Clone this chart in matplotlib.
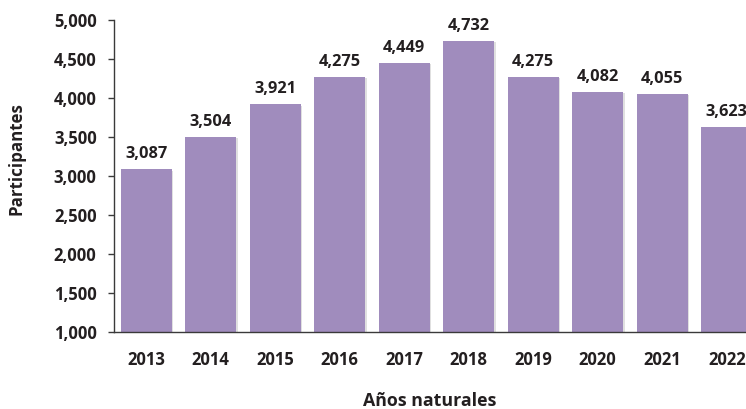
import matplotlib
matplotlib.use("Agg")
import matplotlib.pyplot as plt
from matplotlib import patheffects as pe
from matplotlib.ticker import FuncFormatter, MultipleLocator

years = ["2013", "2014", "2015", "2016", "2017", "2018", "2019", "2020", "2021", "2022"]
participants = [3087, 3504, 3921, 4275, 4449, 4732, 4275, 4082, 4055, 3623]

TXT = "#231f20"
BAR = "#a08cbd"
FONT = ["Open Sans", "DejaVu Sans"]
plt.rcParams["font.family"] = FONT

fig = plt.figure(figsize=(7.46, 4.09), dpi=100)
ax = fig.add_axes([114 / 746, 77 / 409, 645 / 746, 312 / 409])

x = list(range(len(years)))
bars = ax.bar(x, participants, width=0.79, color=BAR, zorder=2)
for b in bars:
    b.set_path_effects([pe.SimplePatchShadow(offset=(1.0, -1.0), shadow_rgbFace="#999999", alpha=0.3), pe.Normal()])

for xi, v in zip(x, participants):
    ax.annotate(f"{v:,}", (xi, v), xytext=(0, 5), textcoords="offset points",
                ha="center", va="bottom", fontsize=11.8, fontweight="bold", color=TXT)

ax.set_xlim(-0.5, 9.5)
ax.set_ylim(1000, 5000)
ax.yaxis.set_major_locator(MultipleLocator(500))
ax.yaxis.set_major_formatter(FuncFormatter(lambda v, p: f"{int(v):,}"))
ax.set_xticks(x)
ax.set_xticklabels(years)

for s in ["top", "right"]:
    ax.spines[s].set_visible(False)
for s in ["left", "bottom"]:
    ax.spines[s].set_color("#3a3a3a")
    ax.spines[s].set_linewidth(1.0)

ax.tick_params(axis="y", length=4, width=1, color="#3a3a3a", pad=8.5, labelsize=12, labelcolor=TXT)
ax.tick_params(axis="x", length=0, pad=13.5, labelsize=12, labelcolor=TXT)
for lab in ax.get_xticklabels() + ax.get_yticklabels():
    lab.set_fontweight("bold")

fig.text(17 / 746, 1 - 159 / 409, "Participantes", rotation=90, ha="center", va="center",
         fontsize=12.2, fontweight="bold", color=TXT)
fig.text(430 / 746, 1 - 401 / 409, "Años naturales", ha="center", va="center",
         fontsize=12.8, fontweight="bold", color=TXT)

fig.savefig("out.png", dpi=100)
